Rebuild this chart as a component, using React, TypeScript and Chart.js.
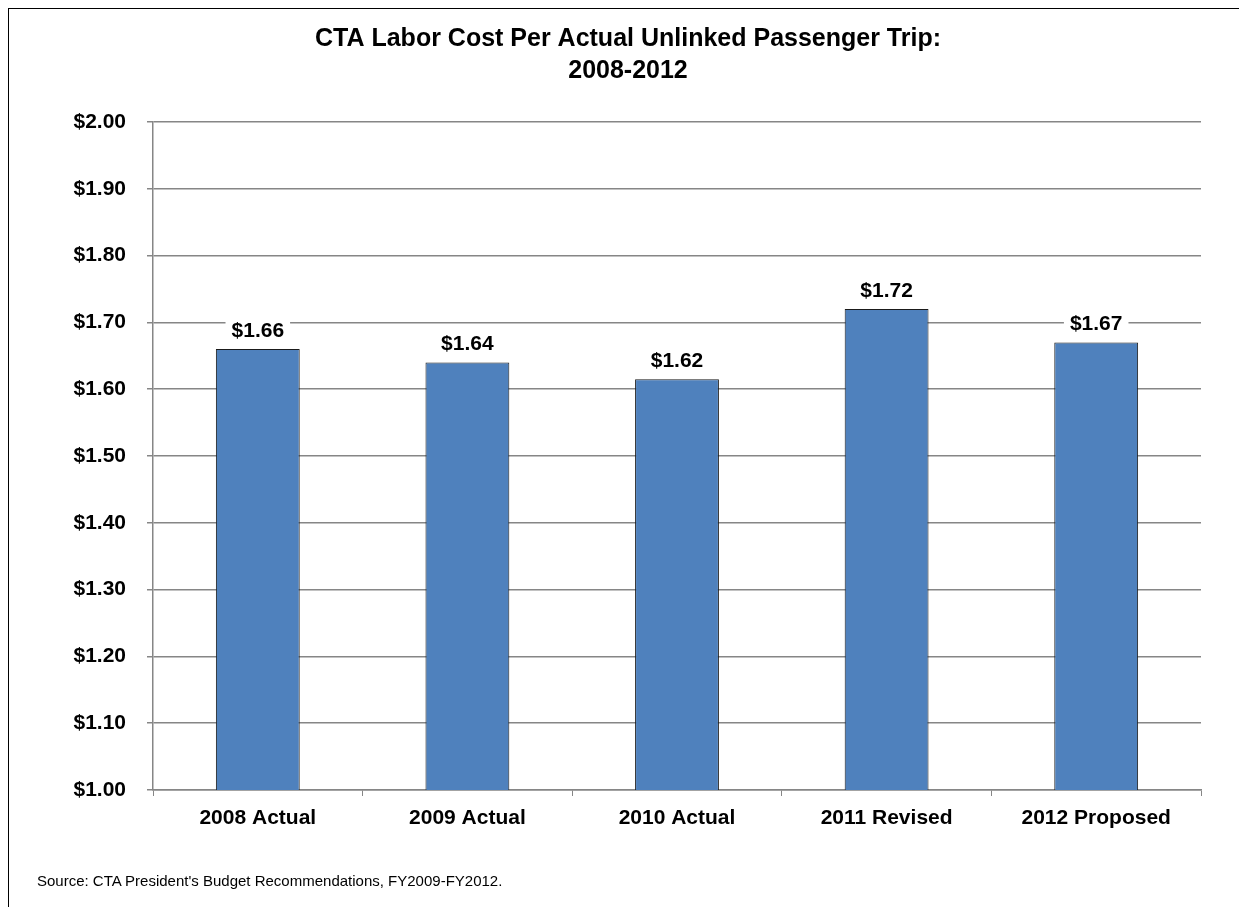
import React, { useEffect, useRef } from "react";
import { Chart, registerables } from "chart.js";

Chart.register(...registerables);

const categories = ["2008 Actual", "2009 Actual", "2010 Actual", "2011 Revised", "2012 Proposed"];
const costPerTrip = [1.66, 1.64, 1.615, 1.72, 1.67];
const valueLabels = ["$1.66", "$1.64", "$1.62", "$1.72", "$1.67"];
const titleLines = ["CTA Labor Cost Per Actual Unlinked Passenger Trip:", "2008-2012"];
const sourceNote = "Source: CTA President's Budget Recommendations, FY2009-FY2012.";

const FONT = "'Liberation Sans', Arial, Helvetica, sans-serif";
const GRID = "#868686";

const labelPlugin = {
  id: "valueLabels",
  afterDatasetsDraw(chart: any) {
    const ctx = chart.ctx;
    const meta = chart.getDatasetMeta(0);
    ctx.save();
    ctx.font = `bold 21px ${FONT}`;
    ctx.textAlign = "center";
    ctx.textBaseline = "middle";
    meta.data.forEach((bar: any, i: number) => {
      const text = valueLabels[i];
      const w = ctx.measureText(text).width;
      const cy = bar.y - 18;
      ctx.fillStyle = "#ffffff";
      ctx.fillRect(bar.x - w / 2 - 6, cy - 12, w + 12, 24);
      ctx.fillStyle = "#000000";
      ctx.fillText(text, bar.x, cy);
    });
    ctx.restore();
  },
};

export default function App() {
  const ref = useRef<HTMLCanvasElement | null>(null);
  useEffect(() => {
    if (!ref.current) return;
    const chart = new Chart(ref.current, {
      type: "bar",
      data: {
        labels: categories,
        datasets: [
          {
            data: costPerTrip,
            backgroundColor: "#4F81BD",
            borderColor: "#1a1a1a",
            borderWidth: 1,
            barPercentage: 0.4,
            categoryPercentage: 1,
          },
        ],
      },
      options: {
        responsive: false,
        animation: false,
        layout: { padding: { left: 46, right: 46, top: 0, bottom: 0 } },
        plugins: {
          legend: { display: false },
          tooltip: { enabled: false },
          title: {
            display: true,
            text: titleLines,
            color: "#000",
            font: { family: FONT, size: 25, weight: "bold", lineHeight: 1.28 },
            padding: { top: 14, bottom: 35 },
          },
        },
        scales: {
          x: {
            afterFit: (s: any) => {
              s.height = 117;
            },
            grid: {
              display: true,
              drawOnChartArea: false,
              drawTicks: true,
              tickLength: 6,
              color: GRID,
              offset: true,
            },
            border: { color: GRID, width: 1.5 },
            ticks: {
              color: "#000",
              font: { family: FONT, size: 21, weight: "bold" },
              padding: 10,
              maxRotation: 0,
            },
          },
          y: {
            min: 1,
            max: 2,
            afterFit: (s: any) => {
              s.width = 98;
            },
            grid: { color: GRID, lineWidth: 1.5, tickLength: 6, drawTicks: true },
            border: { color: GRID, width: 1.5 },
            ticks: {
              stepSize: 0.1,
              color: "#000",
              font: { family: FONT, size: 21, weight: "bold" },
              padding: 21,
              callback: (v: any) => "$" + Number(v).toFixed(2),
            },
          },
        },
      },
      plugins: [labelPlugin],
    });
    return () => chart.destroy();
  }, []);

  return (
    <div
      style={{
        position: "relative",
        width: 1238,
        height: 898,
        borderTop: "1px solid #000",
        borderLeft: "1px solid #000",
        background: "#fff",
      }}
    >
      <canvas ref={ref} width={1238} height={898} style={{ display: "block" }} />
      <div
        style={{
          position: "absolute",
          left: 28,
          top: 863,
          fontFamily: FONT,
          fontSize: 15,
          color: "#000",
          whiteSpace: "nowrap",
        }}
      >
        {sourceNote}
      </div>
    </div>
  );
}
